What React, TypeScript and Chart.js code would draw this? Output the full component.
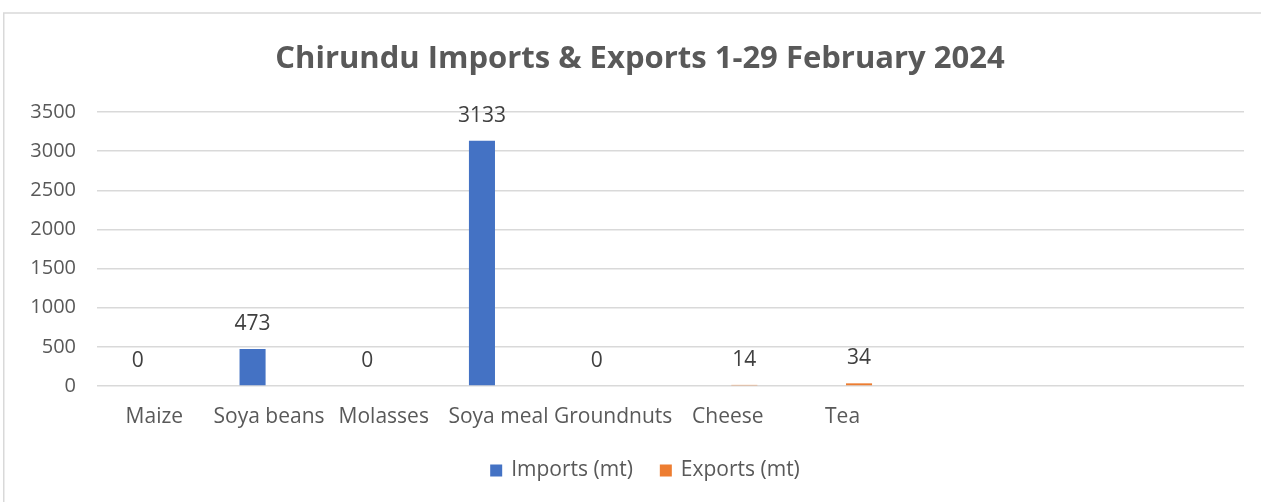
import React, { useEffect, useRef } from "react";
import { Chart, registerables } from "chart.js";

Chart.register(...registerables);

const categories = ["Maize", "Soya beans", "Molasses", "Soya meal", "Groundnuts", "Cheese", "Tea", "", "", ""];
const importsMt = [0, 473, 0, 3133, 0, null, null, null, null, null];
const exportsMt = [null, null, null, null, null, 14, 34, null, null, null];
const titleText = "Chirundu Imports & Exports 1-29 February 2024";
const seriesNames = ["Imports (mt)", "Exports (mt)"];
const seriesColors = ["#4472C4", "#ED7D31"];

const FONT = "'Open Sans', sans-serif";

const framePlugin = {
  id: "frame",
  beforeDraw(chart: any) {
    const ctx = chart.ctx;
    ctx.save();
    ctx.fillStyle = "#ffffff";
    ctx.fillRect(0, 0, chart.width, chart.height);
    ctx.strokeStyle = "#d9d9d9";
    ctx.lineWidth = 1.5;
    ctx.beginPath();
    ctx.moveTo(3.75, chart.height + 5);
    ctx.lineTo(3.75, 13);
    ctx.lineTo(chart.width + 5, 13);
    ctx.stroke();
    ctx.restore();
  },
};

const labelPlugin = {
  id: "valueLabels",
  afterDatasetsDraw(chart: any) {
    const ctx = chart.ctx;
    ctx.save();
    ctx.font = `21px ${FONT}`;
    ctx.fillStyle = "#404040";
    ctx.textAlign = "center";
    ctx.textBaseline = "middle";
    chart.data.datasets.forEach((ds: any, di: number) => {
      const meta = chart.getDatasetMeta(di);
      meta.data.forEach((el: any, i: number) => {
        const v = ds.data[i];
        if (v === null || v === undefined) return;
        ctx.fillText(String(v), el.x, el.y - 25);
      });
    });
    ctx.restore();
  },
};

const legendPlugin = {
  id: "customLegend",
  afterDraw(chart: any) {
    const ctx = chart.ctx;
    ctx.save();
    ctx.font = `21px ${FONT}`;
    ctx.textBaseline = "middle";
    ctx.textAlign = "left";
    const box = 12;
    const boxGap = 9;
    const itemGap = 27;
    const items = chart.data.datasets.map((ds: any) => ({
      text: ds.label,
      color: ds.backgroundColor,
      w: ctx.measureText(ds.label).width,
    }));
    let total = 0;
    items.forEach((it: any, i: number) => {
      total += box + boxGap + it.w + (i > 0 ? itemGap : 0);
    });
    const cx = 645;
    const cy = 470.5;
    let x = cx - total / 2;
    items.forEach((it: any) => {
      ctx.fillStyle = it.color;
      ctx.fillRect(x, cy - box / 2, box, box);
      x += box + boxGap;
      ctx.fillStyle = "#595959";
      ctx.fillText(it.text, x, cy);
      x += it.w + itemGap;
    });
    ctx.restore();
  },
};

export default function App() {
  const ref = useRef<HTMLCanvasElement | null>(null);
  useEffect(() => {
    if (!ref.current) return;
    const chart = new Chart(ref.current, {
      type: "bar",
      data: {
        labels: categories,
        datasets: [
          { label: seriesNames[0], data: importsMt, backgroundColor: seriesColors[0], categoryPercentage: 0.575, barPercentage: 0.79 },
          { label: seriesNames[1], data: exportsMt, backgroundColor: seriesColors[1], categoryPercentage: 0.575, barPercentage: 0.79 },
        ],
      },
      options: {
        animation: false,
        responsive: false,
        maintainAspectRatio: false,
        layout: { padding: { left: 19, right: 0, top: 14, bottom: 54.8 } },
        plugins: {
          title: {
            display: true,
            text: titleText,
            color: "#595959",
            font: { family: FONT, size: 31, weight: "bold" },
            padding: { top: 26.9, bottom: 33.9 },
          },
          legend: { display: false },
          tooltip: { enabled: false },
        },
        scales: {
          x: {
            grid: { display: false, drawTicks: false },
            border: { display: false },
            ticks: { color: "#595959", font: { family: FONT, size: 21 }, padding: 18, maxRotation: 0, autoSkip: false },
          },
          y: {
            min: 0,
            max: 3500,
            afterFit(axis: any) {
              axis.width = 78;
            },
            grid: { color: "#d9d9d9", lineWidth: 1.5, drawTicks: false },
            border: { display: false },
            ticks: {
              stepSize: 500,
              color: "#595959",
              font: { family: FONT, size: 20 },
              padding: 21,
              callback: (v: any) => String(v),
            },
          },
          yRight: {
            type: "linear",
            position: "right",
            display: true,
            afterFit(axis: any) {
              axis.width = 17;
            },
            grid: { display: false, drawTicks: false },
            border: { display: false },
            ticks: { display: false },
          },
        },
      },
      plugins: [framePlugin, labelPlugin, legendPlugin],
    });
    return () => chart.destroy();
  }, []);
  return (
    <div style={{ position: "absolute", left: 0, top: 0, width: 1261, height: 502, background: "#fff" }}>
      <canvas ref={ref} width={1261} height={502} style={{ display: "block" }} />
    </div>
  );
}
